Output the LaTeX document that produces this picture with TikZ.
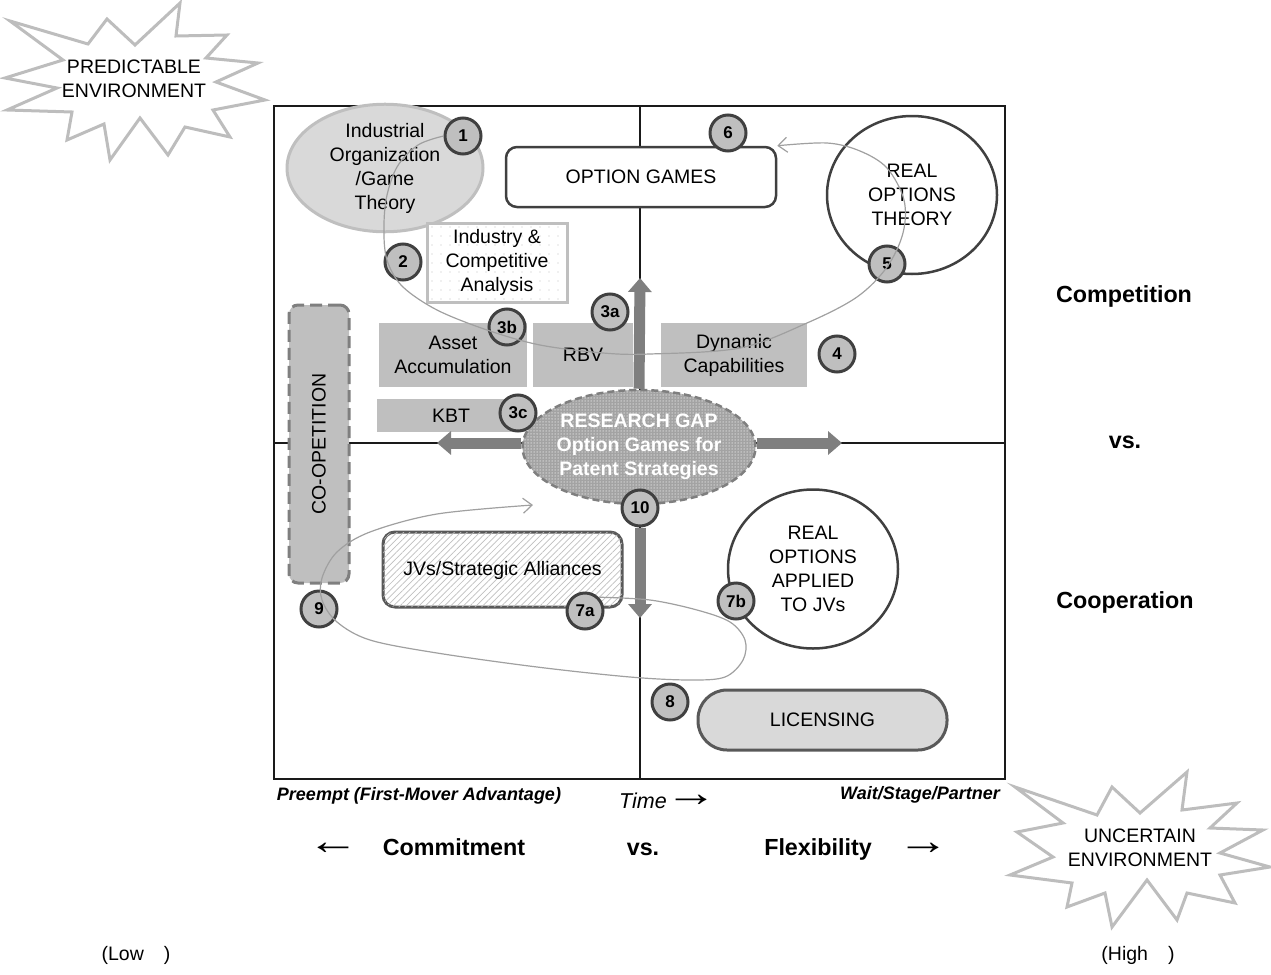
\documentclass[tikz,border=0pt]{standalone}
\usepackage{fontspec}
\setmainfont{Liberation Sans}
\usetikzlibrary{shapes.geometric,arrows.meta,patterns.meta}

\definecolor{ink}{HTML}{1A1A1A}
\definecolor{rim}{HTML}{404040}
\definecolor{rimsoft}{HTML}{595959}
\definecolor{disc}{HTML}{BFBFBF}
\definecolor{pale}{HTML}{D9D9D9}
\definecolor{mid}{HTML}{7F7F7F}
\definecolor{trail}{HTML}{A0A0A0}
\definecolor{burst}{HTML}{BDBDBD}

\newcommand{\bodyfont}{\fontsize{19.5}{24}\selectfont}
\newcommand{\tagfont}{\fontsize{17}{20}\selectfont\bfseries}
\newcommand{\sidefont}{\fontsize{23.3}{27}\selectfont\bfseries}
\newcommand{\notefont}{\fontsize{18}{21}\selectfont\bfseries\itshape}
\newcommand{\timefont}{\fontsize{21.5}{25}\selectfont\itshape}
\newcommand{\arrowfont}{\fontsize{40}{44}\selectfont}
\newcommand{\wideglyph}[1]{\scalebox{1.3}[1]{#1}}

\tikzset{
  numtag/.style={circle, draw=rim, line width=3pt, fill=disc, minimum size=36pt,
    inner sep=0pt, font=\tagfont},
  greybox/.style={fill=disc, inner sep=0pt, font=\bodyfont, align=center},
  bigring/.style={ellipse, draw=rim, line width=2.5pt, fill=white, inner sep=0pt,
    font=\bodyfont, align=center},
  bigarrow/.style={draw=mid, line width=11pt,
    -{Triangle[width=23pt,length=14pt]}},
  trailline/.style={draw=trail, line width=1.2pt},
  trailarrow/.style={trailline, -{Straight Barb[length=9pt,width=15pt,line width=1.2pt]}},
  burstline/.style={draw=burst, line width=3pt, fill=white, line join=miter},
  plain/.style={inner sep=0pt, font=\bodyfont, align=center},
  glyph/.style={inner sep=0pt, font=\arrowfont},
}

\begin{document}
\begin{tikzpicture}[x=1pt, y=-1pt]
\useasboundingbox (0,0) rectangle (1271,974);

% quadrant frame and axes
\draw[ink, line width=2pt] (274,106) rectangle (1005,779);
\draw[ink, line width=1.6pt] (640,106) -- (640,779);
\draw[ink, line width=1.6pt] (274,443) -- (1005,443);

% starbursts
\draw[burstline] (10,21) -- (88,44) -- (107,19) -- (135,45) -- (180,3) -- (176,36)
  -- (227,35) -- (206,58) -- (258,63) -- (216,82) -- (265,100) -- (213,110)
  -- (230,137) -- (185,127) -- (168,155) -- (140,118) -- (110,160) -- (104,124)
  -- (67,140) -- (72,112) -- (7,110) -- (57,88) -- (5,78) -- (63,60) -- cycle;
\node[plain] (pred) at (134,79) {PREDICTABLE\\ENVIRONMENT};

\draw[burstline] (1015,787) -- (1097,815) -- (1112,787) -- (1140,813) -- (1187,772)
  -- (1182,810) -- (1237,803) -- (1210,828) -- (1263,830) -- (1220,853)
  -- (1270,867) -- (1220,875) -- (1235,903) -- (1187,893) -- (1177,920)
  -- (1147,880) -- (1112,927) -- (1105,893) -- (1067,907) -- (1072,883)
  -- (1010,875) -- (1053,857) -- (1017,832) -- (1063,823) -- cycle;
\node[plain] (unc) at (1140,848) {UNCERTAIN\\ENVIRONMENT};

% top-left quadrant
\node[ellipse, fill=pale, draw=disc, line width=3pt, minimum width=196pt,
  minimum height=107pt, inner sep=0pt, font=\bodyfont, align=center]
  (io) at (385,168) {Industrial\\Organization\\/Game\\Theory};
\node[draw=disc, line width=3pt, fill=white, minimum width=140pt, minimum height=79pt,
  inner sep=0pt, font=\bodyfont, align=center,
  postaction={pattern={Dots[distance=9pt, radius=0.7pt]}, pattern color=disc}]
  (ica) at (497,262.5) {Industry \&\\Competitive\\Analysis};
\node[greybox, minimum width=148pt, minimum height=64pt] (asset) at (453,355)
  {Asset\\Accumulation};
\node[greybox, minimum width=100pt, minimum height=64pt] (rbv) at (583,355) {RBV};
\node[greybox, minimum width=148pt, minimum height=33pt] (kbt) at (451,415.5) {KBT};

% co-opetition strip
\node[rectangle, rounded corners=9pt, fill=disc, draw=mid, dashed,
  dash pattern=on 12pt off 6pt, line width=3pt, minimum width=60pt,
  minimum height=278pt, inner sep=0pt] (coop) at (319,444) {};
\node[plain, rotate=90] (cooptext) at (coop.center) {CO-OPETITION};

% top-right quadrant
\node[rectangle, rounded corners=11pt, draw=rim, line width=2.5pt, fill=white,
  minimum width=270pt, minimum height=60pt, inner sep=0pt, font=\bodyfont]
  (og) at (641,177) {OPTION GAMES};
\node[bigring, minimum width=170pt, minimum height=158pt] (rot) at (912,195)
  {REAL\\OPTIONS\\THEORY};
\node[greybox, minimum width=146pt, minimum height=64pt] (dyn) at (734,355)
  {Dynamic\\Capabilities};

% research gap hub
\node[ellipse, draw=mid, dashed, dash pattern=on 7pt off 4pt, line width=2.5pt,
  minimum width=195pt, minimum height=114pt, inner sep=0pt,
  preaction={fill=gray!72},
  pattern={Dots[distance=3pt, radius=0.75pt]}, pattern color=gray!30,
  font=\fontsize{19.5}{24}\selectfont\bfseries, text=white, align=center]
  (gap) at (639,447) {RESEARCH GAP\\Option Games for\\Patent Strategies};

% bottom-left quadrant
\node[rectangle, rounded corners=12pt, draw=rimsoft, line width=3pt, fill=white,
  minimum width=239pt, minimum height=75pt, inner sep=0pt, font=\bodyfont,
  postaction={pattern={Lines[angle=45, distance=4.5pt, line width=0.7pt]},
    pattern color=disc}]
  (jv) at (502.5,569.5) {};
\node[plain] (jvtext) at (502.5,570.5) {JVs/Strategic Alliances};

% bottom-right quadrant
\node[bigring, minimum width=170pt, minimum height=159pt] (roa) at (813,569)
  {REAL\\OPTIONS\\APPLIED\\TO JVs};
\node[rectangle, rounded corners=29pt, draw=rimsoft, line width=3pt, fill=pale,
  minimum width=249pt, minimum height=60pt, inner sep=0pt, font=\bodyfont]
  (lic) at (822.5,720) {LICENSING};

% numbered markers
\node[numtag] (n1) at (463,136) {1};
\node[numtag] (n2) at (403,262) {2};
\node[numtag] (n3a) at (610,312) {3a};
\node[numtag] (n3b) at (507,327) {3b};
\node[numtag] (n3c) at (518,413) {3c};
\node[numtag] (n4) at (837,354) {4};
\node[numtag] (n5) at (887,264) {5};
\node[numtag] (n6) at (728,133) {6};
\node[numtag] (n7a) at (585,611) {7a};
\node[numtag] (n7b) at (736,601) {7b};
\node[numtag] (n8) at (670,702) {8};
\node[numtag] (n9) at (319,609) {9};
\node[numtag] (n10) at (640,508) {10};

% arrows out of the hub
\draw[bigarrow] (gap.north) -- (640,278);
\draw[bigarrow] ([yshift=4pt]gap.west) -- (437,443);
\draw[bigarrow] ([yshift=4pt]gap.east) -- (842,443);
\draw[bigarrow] (n10.south) -- (640,618);

% literature trails
\draw[trailarrow] plot[smooth, tension=0.55] coordinates {
  (n1.west) (418,145) (397,167) (386,200) (384,237) (388,263) (403,287)
  (437,310) (487,330) (540,345) (603,353) (650,354) (740,348) (807,323)
  (857,297) (887,267) (903,233) (904,200) (887,168) (860,151) (827,143)
  (og.north east)};
\draw[trailarrow] plot[smooth, tension=0.55] coordinates {
  (n7a.north east) (650,600) (697,610) (730,622) (745,640) (743,660) (725,677)
  (690,680) (630,677) (537,667) (437,653) (370,640) (337,622) (322,600)
  (322,578) (337,552) (370,532) (437,514) (533,505)};

% axis labels
\node[font=\sidefont] (comp) at (1124,296) {Competition};
\node[font=\sidefont] (vsr) at (1125,442) {vs.};
\node[font=\sidefont] (coopl) at (1125,602) {Cooperation};

\node[font=\notefont] (pre) at (419,796) {Preempt (First-Mover Advantage)};
\node[font=\timefont, anchor=base] (time) at (643,808) {Time};
\node[glyph] (tarr) at (691,801) {\wideglyph{→}};
\node[font=\notefont] (wait) at (920,795) {Wait/Stage/Partner};

\node[glyph] (la) at (333,849) {\wideglyph{←}};
\node[font=\sidefont, anchor=base] (commit) at (454,855) {Commitment};
\node[font=\sidefont, anchor=base] (vsb) at (643,855) {vs.};
\node[font=\sidefont, anchor=base] (flex) at (818,855) {Flexibility};
\node[glyph] (ra) at (923,849) {\wideglyph{→}};

\node[font=\bodyfont] (low) at (136,955) {(Low\hspace{20pt})};
\node[font=\bodyfont] (high) at (1138,955) {(High\hspace{20pt})};
\end{tikzpicture}
\end{document}
